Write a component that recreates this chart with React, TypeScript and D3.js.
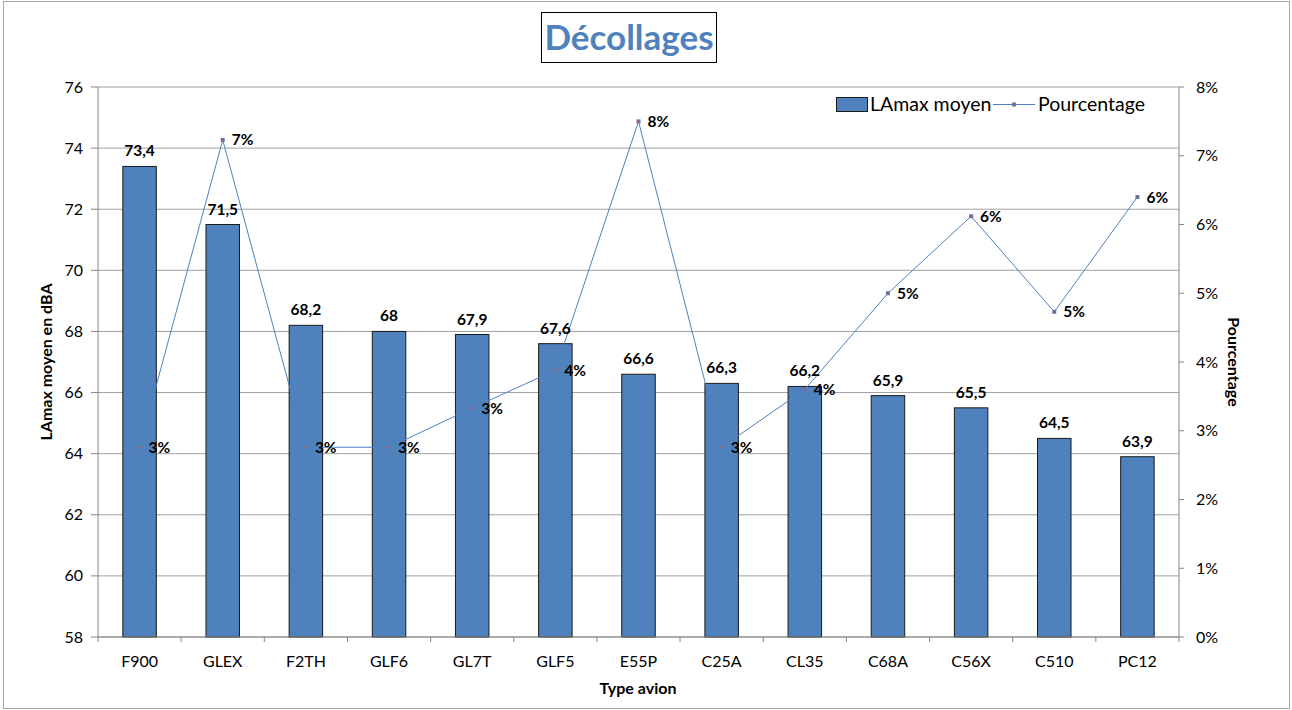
import React from "react";
import * as d3 from "d3";

const categories = ["F900", "GLEX", "F2TH", "GLF6", "GL7T", "GLF5", "E55P", "C25A", "CL35", "C68A", "C56X", "C510", "PC12"];
const lamax = [73.4, 71.5, 68.2, 68, 67.9, 67.6, 66.6, 66.3, 66.2, 65.9, 65.5, 64.5, 63.9];
const lamaxLabels = ["73,4", "71,5", "68,2", "68", "67,9", "67,6", "66,6", "66,3", "66,2", "65,9", "65,5", "64,5", "63,9"];
const percent = [2.76, 7.23, 2.76, 2.76, 3.33, 3.88, 7.5, 2.76, 3.6, 5.0, 6.12, 4.73, 6.4];
const percentLabels = ["3%", "7%", "3%", "3%", "3%", "4%", "8%", "3%", "4%", "5%", "6%", "5%", "6%"];
const leftTicks = [58, 60, 62, 64, 66, 68, 70, 72, 74, 76];
const rightTicks = [0, 1, 2, 3, 4, 5, 6, 7, 8];

const W = 1292, H = 710;
const left = 98, right = 1179, top = 87, bottom = 637;
const blue = "#4F81BD";
const font = "Lato, 'Open Sans', sans-serif";

export default function App() {
  const xOuter = d3.scaleBand<string>().domain(categories).range([left, right]);
  const y = d3.scaleLinear().domain([58, 76]).range([bottom, top]);
  const y2 = d3.scaleLinear().domain([0, 8]).range([bottom, top]);
  const cx = (i: number) => (xOuter(categories[i]) as number) + xOuter.bandwidth() / 2;
  const line = d3.line<number>().x((_, i) => cx(i)).y((d) => y2(d));
  const bw = 33.5;

  return (
    <svg width={W} height={H} style={{ position: "absolute", left: 0, top: 0 }}>
      <rect x={0} y={0} width={W} height={H} fill="#fff" />
      <rect x={3.5} y={1.5} width={W - 6} height={H - 3} fill="none" stroke="#a6a6a6" strokeWidth={1} />
      {/* title */}
      <rect x={541.5} y={12.5} width={175} height={50} fill="#fff" stroke="#000" strokeWidth={1} />
      <text x={629} y={50} textAnchor="middle" fontFamily={font} fontWeight="bold" fontSize={35} fill={blue}>Décollages</text>
      {/* grid */}
      {leftTicks.map((t) => (
        <line key={"g" + t} x1={left} x2={right} y1={y(t)} y2={y(t)} stroke="#a0a0a0" strokeWidth={1} />
      ))}
      {/* bars */}
      {lamax.map((v, i) => (
        <rect key={"b" + i} x={cx(i) - bw / 2} y={y(v)} width={bw} height={bottom - y(v)} fill={blue} stroke="#1a1a1a" strokeWidth={1} />
      ))}
      {/* axes */}
      <line x1={left} x2={left} y1={top} y2={bottom} stroke="#868686" />
      <line x1={right} x2={right} y1={top} y2={bottom} stroke="#868686" />
      <line x1={left} x2={right} y1={bottom} y2={bottom} stroke="#868686" />
      {leftTicks.map((t) => (
        <g key={"l" + t}>
          <line x1={left - 7} x2={left} y1={y(t)} y2={y(t)} stroke="#868686" />
          <text x={left - 15} y={y(t) + 5.5} textAnchor="end" fontFamily={font} fontSize={16} fill="#000">{t}</text>
        </g>
      ))}
      {rightTicks.map((t) => (
        <g key={"r" + t}>
          <line x1={right} x2={right + 5} y1={y2(t)} y2={y2(t)} stroke="#868686" />
          <text x={right + 17} y={y2(t) + 5.5} textAnchor="start" fontFamily={font} fontSize={16} fill="#000">{t + "%"}</text>
        </g>
      ))}
      {categories.map((c, i) => (
        <g key={"c" + c}>
          <line x1={xOuter(c) as number} x2={xOuter(c) as number} y1={bottom} y2={bottom + 5} stroke="#868686" />
          <text x={cx(i)} y={bottom + 30} textAnchor="middle" fontFamily={font} fontSize={16} fill="#000">{c}</text>
        </g>
      ))}
      <line x1={right} x2={right} y1={bottom} y2={bottom + 5} stroke="#868686" />
      {/* line */}
      <path d={line(percent) as string} fill="none" stroke={blue} strokeWidth={1} />
      {percent.map((p, i) => (
        <g key={"m" + i}>
          <rect x={cx(i) - 2} y={y2(p) - 2} width={4} height={4} fill={blue} />
          <rect x={cx(i) - 1} y={y2(p) - 1} width={2} height={2} fill="#c0504d" />
        </g>
      ))}
      {/* labels */}
      {lamax.map((v, i) => (
        <text key={"bl" + i} x={cx(i)} y={y(v) - 10} textAnchor="middle" fontFamily={font} fontWeight="bold" fontSize={15.5} fill="#000">{lamaxLabels[i]}</text>
      ))}
      {percent.map((p, i) => (
        <text key={"pl" + i} x={cx(i) + 9} y={y2(p) + 5.5} textAnchor="start" fontFamily={font} fontWeight="bold" fontSize={15.5} fill="#000">{percentLabels[i]}</text>
      ))}
      {/* axis titles */}
      <text transform={`translate(52,${(top + bottom) / 2}) rotate(-90)`} textAnchor="middle" fontFamily={font} fontWeight="bold" fontSize={16} fill="#000">LAmax moyen en dBA</text>
      <text transform={`translate(1228,${(top + bottom) / 2}) rotate(90)`} textAnchor="middle" fontFamily={font} fontWeight="bold" fontSize={16} fill="#000">Pourcentage</text>
      <text x={638} y={694} textAnchor="middle" fontFamily={font} fontWeight="bold" fontSize={16} fill="#000">Type avion</text>
      {/* legend */}
      <rect x={836.5} y={97.5} width={31} height={14} fill={blue} stroke="#1a1a1a" />
      <text x={870} y={111} fontFamily={font} fontSize={19.5} fill="#000">LAmax moyen</text>
      <line x1={993} x2={1035} y1={104.5} y2={104.5} stroke={blue} />
      <rect x={1012} y={102.5} width={4} height={4} fill={blue} />
      <rect x={1013} y={103.5} width={2} height={2} fill="#c0504d" />
      <text x={1038} y={111} fontFamily={font} fontSize={19.5} fill="#000">Pourcentage</text>
    </svg>
  );
}
